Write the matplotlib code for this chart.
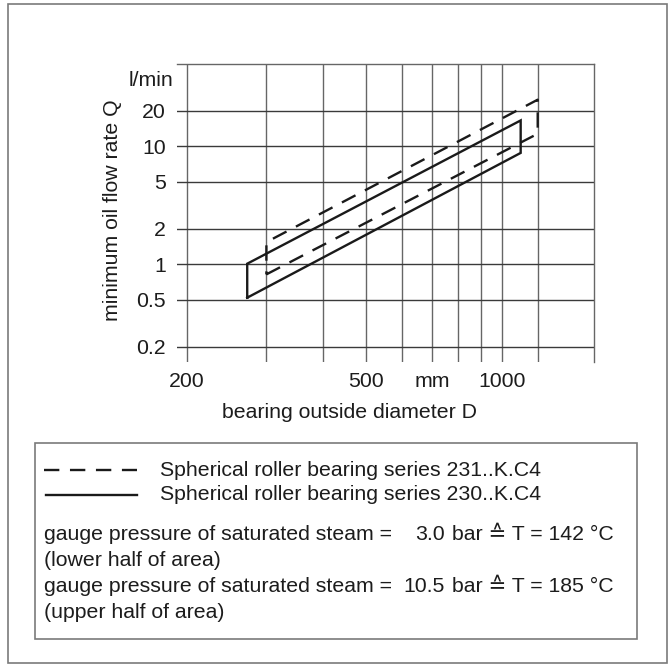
import matplotlib
matplotlib.use("Agg")
import matplotlib.pyplot as plt
from matplotlib.lines import Line2D
from matplotlib.patches import Rectangle
from matplotlib.ticker import FixedLocator, FixedFormatter, NullLocator

plt.rcParams["font.family"] = ["Liberation Sans", "DejaVu Sans"]

# bearing outside diameter D (mm) at the short sides of each band
d_231 = [300, 1200]
q_231_low = [0.82, 12.8]   # l/min, lower half of area
q_231_high = [1.54, 24.9]  # l/min, upper half of area

d_230 = [272, 1100]
q_230_low = [0.52, 8.8]
q_230_high = [1.01, 16.6]

x_grid = [200, 300, 400, 500, 600, 700, 800, 900, 1000, 1200]
x_labels = ["200", "", "", "500", "", "mm", "", "", "1000", ""]
y_grid = [0.2, 0.5, 1, 2, 5, 10, 20]
y_labels = ["0.2", "0.5", "1", "2", "5", "10", "20"]

legend_labels = [
    "Spherical roller bearing series 231..K.C4",
    "Spherical roller bearing series 230..K.C4",
]
steam_bar = ["3.0", "10.5"]
steam_temp = ["142", "185"]
steam_half = ["(lower half of area)", "(upper half of area)"]

W, H = 669, 665
text_col = "#1c1c1c"
frame_col = "#7a7a7a"
fs = 15.3


def band(d, low, high):
    xs = [d[0], d[1], d[1], d[0], d[0]]
    ys = [low[0], low[1], high[1], high[0], low[0]]
    return xs, ys


fig = plt.figure(figsize=(W / 100, H / 100), dpi=100)

# overlay in pixel coordinates for the frames and the key
ov = fig.add_axes([0, 0, 1, 1])
ov.set_xlim(0, W)
ov.set_ylim(H, 0)
ov.axis("off")
ov.add_patch(Rectangle((8, 4), 659, 659, fill=False, ec=frame_col, lw=1.2))
ov.add_patch(Rectangle((35, 443), 602, 196, fill=False, ec=frame_col, lw=1.2))

ax = fig.add_axes([177 / W, 1 - 362 / H, (594 - 177) / W, (362 - 64) / H])
ax.set_xscale("log")
ax.set_yscale("log")
ax.set_xlim(190, 1600)
ax.set_ylim(0.148, 50)
ax.patch.set_alpha(0)

ax.xaxis.set_major_locator(FixedLocator(x_grid))
ax.xaxis.set_major_formatter(FixedFormatter(x_labels))
ax.xaxis.set_minor_locator(NullLocator())
ax.yaxis.set_major_locator(FixedLocator(y_grid))
ax.yaxis.set_major_formatter(FixedFormatter(y_labels))
ax.yaxis.set_minor_locator(NullLocator())
ax.tick_params(length=0, labelsize=fs, labelcolor=text_col)
ax.tick_params(axis="x", pad=7)
ax.tick_params(axis="y", pad=8)

ax.grid(True, axis="y", color="#3a3a3a", lw=1.0)
ax.grid(True, axis="x", color="#666666", lw=1.0)
for s in ["left", "bottom"]:
    ax.spines[s].set_visible(False)
for s in ["top", "right"]:
    ax.spines[s].set_color("#666666")
    ax.spines[s].set_linewidth(1.0)

xs, ys = band(d_231, q_231_low, q_231_high)
ax.plot(xs, ys, color="#1a1a1a", lw=1.7, ls=(0, (6.5, 4.5)), solid_capstyle="butt")
xs, ys = band(d_230, q_230_low, q_230_high)
ax.plot(xs, ys, color="#1a1a1a", lw=1.7, solid_joinstyle="miter")

ov.text(349, 412, "bearing outside diameter D", ha="center", va="center",
        fontsize=fs, color=text_col)
ov.text(112, 210, "minimum oil flow rate Q", ha="center", va="center",
        rotation=90, fontsize=fs, color=text_col)
ov.text(173, 80, "l/min", ha="right", va="center", fontsize=fs, color=text_col)

# key
ov.add_line(Line2D([44, 137], [470, 470], color="#1a1a1a", lw=1.7, ls=(0, (6.5, 4.5))))
ov.add_line(Line2D([46, 137], [495, 495], color="#1a1a1a", lw=1.7))
for lab, y in zip(legend_labels, [470, 495]):
    ov.text(160, y, lab, ha="left", va="center", fontsize=fs, color=text_col)

for i, y in enumerate([535, 587]):
    ov.text(44, y, "gauge pressure of saturated steam =", ha="left", va="center",
            fontsize=fs, color=text_col)
    ov.text(445, y, steam_bar[i], ha="right", va="center", fontsize=fs, color=text_col)
    ov.text(452, y, "bar \u2259 T = " + steam_temp[i] + " \u00b0C", ha="left",
            va="center", fontsize=fs, color=text_col)
    ov.text(44, y + 26, steam_half[i], ha="left", va="center", fontsize=fs,
            color=text_col)

fig.savefig("out.png", dpi=100)
